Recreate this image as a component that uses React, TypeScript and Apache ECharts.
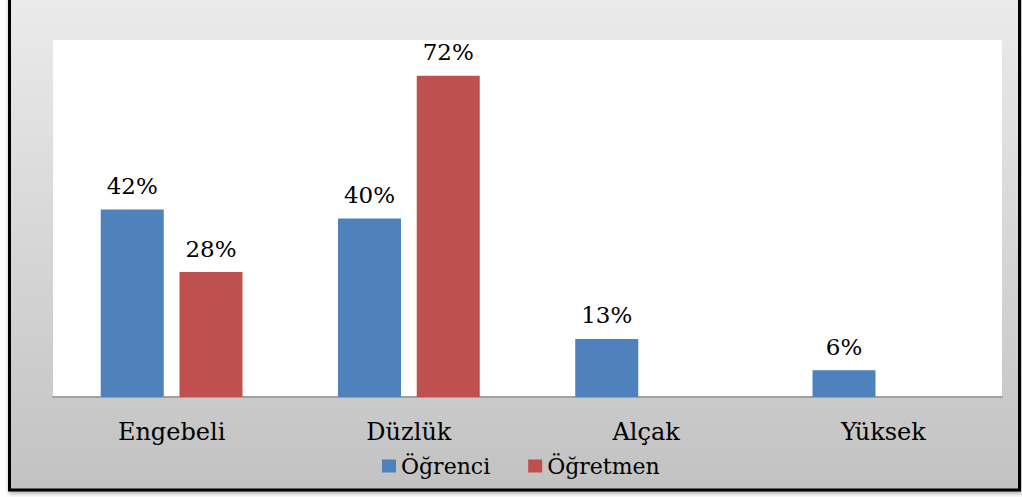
import React, { useEffect, useRef } from "react";
import * as echarts from "echarts";

const categories = ["Engebeli", "Düzlük", "Alçak", "Yüksek"];
const seriesNames = ["Öğrenci", "Öğretmen"];
const ogrenciValues = [42, 40, 13, 6];
const ogretmenValues: (number | null)[] = [28, 72, null, null];
const seriesColors = ["#4F81BD", "#C0504D"];

const FONT = "DejaVu Serif";

export default function App() {
  const ref = useRef<HTMLDivElement>(null);
  useEffect(() => {
    if (!ref.current) return;
    const chart = echarts.init(ref.current, null, { renderer: "svg" });
    const label = {
      show: true,
      position: "top" as const,
      distance: 12,
      formatter: (p: any) => (p.value == null ? "" : p.value + "%"),
      fontFamily: FONT,
      fontSize: 23,
      color: "#000",
    };
    chart.setOption({
      animation: false,
      graphic: [
        {
          type: "rect",
          id: "frame",
          z: -10,
          shape: { x: 9.5, y: -5, width: 1010, height: 495 },
          style: {
            fill: new echarts.graphic.LinearGradient(0, 0, 0, 1, [
              { offset: 0, color: "#ebebeb" },
              { offset: 1, color: "#c2c2c2" },
            ]),
            stroke: "#000",
            lineWidth: 3,
            shadowBlur: 4,
            shadowColor: "rgba(0,0,0,0.35)",
            shadowOffsetX: 1,
            shadowOffsetY: 2,
          },
        },
      ],
      grid: {
        left: 53,
        right: 20,
        top: 40,
        bottom: 100,
        show: true,
        backgroundColor: "#ffffff",
        borderWidth: 0,
        z: -5,
      },
      legend: {
        left: 377,
        top: 450,
        itemWidth: 14,
        itemHeight: 13,
        itemGap: 38,
        icon: "rect",
        textStyle: { fontFamily: FONT, fontSize: 22, color: "#000" },
        data: seriesNames,
      },
      xAxis: {
        type: "category",
        data: categories,
        axisTick: { show: false },
        axisLine: { show: true, lineStyle: { color: "#a0a0a0", width: 2 } },
        axisLabel: {
          fontFamily: FONT,
          fontSize: 24,
          color: "#000",
          margin: 23,
        },
      },
      yAxis: {
        type: "value",
        min: 0,
        max: 80,
        show: false,
        splitLine: { show: false },
      },
      series: [
        {
          name: seriesNames[0],
          type: "bar",
          data: ogrenciValues,
          barWidth: 63,
          barGap: "25%",
          itemStyle: { color: seriesColors[0] },
          label,
        },
        {
          name: seriesNames[1],
          type: "bar",
          data: ogretmenValues,
          barWidth: 63,
          barGap: "25%",
          itemStyle: { color: seriesColors[1] },
          label,
        },
      ],
    });
    return () => chart.dispose();
  }, []);
  return (
    <div
      ref={ref}
      style={{ position: "fixed", left: 0, top: 0, width: 1022, height: 497, background: "#fff" }}
    />
  );
}
